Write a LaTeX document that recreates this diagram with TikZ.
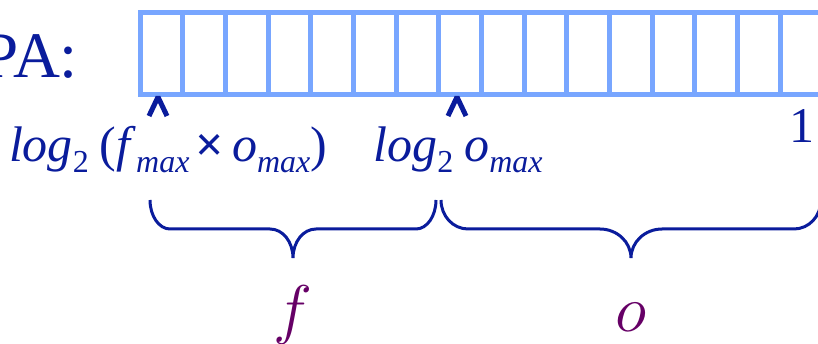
\RequirePackage{fix-cm}
\documentclass[tikz,border=0pt]{standalone}
\usepackage{fontspec}
\setmainfont{Liberation Serif}
\usepackage{xcolor}
\usepackage{tikz}
\usetikzlibrary{positioning}
\definecolor{Ink}{HTML}{0A1C9C}
\definecolor{CellBlue}{HTML}{78A6FF}
\definecolor{Plum}{HTML}{660066}
\newcommand{\subtxt}[1]{\raisebox{-11pt}{\fontsize{32}{32}\selectfont #1}}

\begin{document}
\begin{tikzpicture}[
  x=1pt,y=-1pt,
  every node/.style={inner sep=0pt,outer sep=0pt},
  cell/.style={draw=CellBlue,line width=5pt},
  caret/.style={draw=Ink,line width=5pt,line join=bevel},
  curly/.style={draw=Ink,line width=3pt},
  lbl/.style={text=Ink,font=\fontsize{50}{60}\selectfont},
  tag/.style={text=Ink,font=\fontsize{65}{78}\selectfont},
  var/.style={text=Plum,font=\fontsize{66}{80}\selectfont}
]
\useasboundingbox (0,0) rectangle (818,344);
\clip (0,0) rectangle (818,344);
% register
\node[tag,anchor=base east] (pa) at (78,78) {PA:};
\draw[cell] (140,12.5) rectangle (823,94.5);
\foreach \k in {1,...,15} \draw[cell] ({140+42.69*\k},12.5) -- ({140+42.69*\k},94.5);
% bit positions
\coordinate (hat1) at (158,97);
\coordinate (hat2) at (457,97);
\draw[caret] (hat1) ++(-9,19) -- (hat1) -- ++(9,19);
\draw[caret] (hat2) ++(-9,19) -- (hat2) -- ++(9,19);
\node[lbl,below=65pt of hat1,anchor=base,xshift=10pt] (fo) {\textit{log}\subtxt{2}\hspace{11pt}(\textit{f}\subtxt{\textit{max}}\hspace{6pt}\textbf{×}\hspace{8pt}\textit{o}\subtxt{\textit{max}})};
\node[lbl,below=65pt of hat2,anchor=base,xshift=1pt] (om) {\textit{log}\subtxt{2}\hspace{11pt}\textit{o}\subtxt{\textit{max}}};
\node[lbl,anchor=base] (one) at (802,143) {1};
% fields
\coordinate (ftip) at (293,258);
\coordinate (otip) at (631,258);
\draw[curly] (150,200) .. controls (150,216) and (159,229) .. (170,229) -- (270,229) .. controls (283,229) and (293,242) .. (ftip) .. controls (293,242) and (303,229) .. (316,229) -- (416,229) .. controls (427,229) and (436,216) .. (436,200);
\draw[curly] (441,200) .. controls (441,216) and (453,229) .. (468,229) -- (600,229) .. controls (617,229) and (631,242) .. (otip) .. controls (631,242) and (645,229) .. (662,229) -- (794,229) .. controls (809,229) and (821,216) .. (821,200);
\node[var,below=73pt of ftip,anchor=base] (f) {$f$};
\node[var,below=73pt of otip,anchor=base] (o) {$o$};
\end{tikzpicture}
\end{document}
